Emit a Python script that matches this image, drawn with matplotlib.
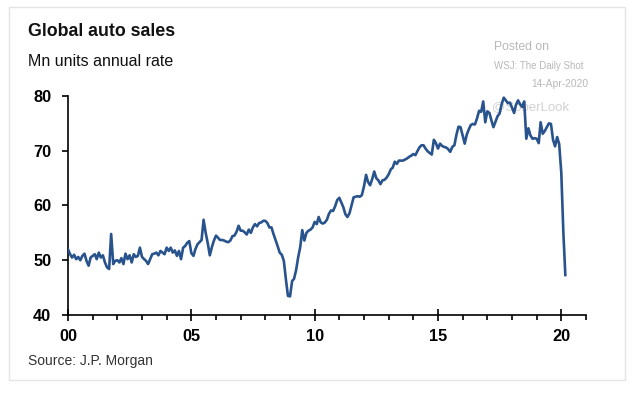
import matplotlib
matplotlib.use("Agg")
import matplotlib.pyplot as plt
import matplotlib.dates as mdates
from matplotlib.patches import Rectangle
import numpy as np
import pandas as pd

plt.rcParams['font.family'] = ['Liberation Sans', 'DejaVu Sans']

# monthly global auto sales, Mn units annual rate
y2000 = [52.0, 51.1, 50.5, 51.0, 50.2, 50.6, 50.0, 50.8, 51.2, 49.9, 49.0, 50.5]
y2001 = [50.8, 51.1, 50.2, 51.4, 50.5, 50.9, 49.6, 48.7, 48.4, 54.8, 49.3, 49.9]
y2002 = [50.0, 49.6, 50.4, 49.3, 51.2, 50.2, 50.9, 49.6, 51.1, 50.6, 50.8, 52.3]
y2003 = [50.6, 50.2, 49.9, 49.3, 50.2, 51.1, 51.2, 51.4, 50.9, 51.7, 51.4, 51.1]
y2004 = [52.3, 51.7, 52.3, 51.4, 51.8, 50.8, 51.7, 50.2, 52.3, 52.6, 53.2, 53.5]
y2005 = [51.3, 50.8, 52.0, 52.9, 53.3, 53.7, 57.4, 55.0, 53.1, 50.9, 52.4, 53.6]
y2006 = [54.5, 54.1, 53.7, 53.7, 53.6, 53.4, 53.3, 53.6, 54.4, 54.5, 55.2, 56.3]
y2007 = [55.4, 55.4, 55.1, 54.7, 55.6, 55.0, 56.0, 56.6, 56.2, 56.8, 56.9, 57.2]
y2008 = [57.2, 56.8, 56.0, 56.0, 54.8, 53.7, 52.6, 51.4, 51.0, 49.9, 46.5, 43.5]
y2009 = [43.4, 46.2, 46.6, 48.2, 50.5, 52.4, 55.5, 53.6, 55.0, 55.4, 55.6, 56.0]
y2010 = [57.0, 56.6, 57.9, 56.9, 56.7, 56.9, 57.4, 58.5, 59.1, 59.0, 59.9, 61.0]
y2011 = [61.4, 60.5, 59.7, 58.4, 57.9, 58.6, 60.0, 61.5, 61.6, 61.7, 61.6, 61.9]
y2012 = [63.5, 65.6, 64.3, 63.7, 64.8, 66.2, 65.0, 64.6, 63.9, 64.6, 64.7, 65.1]
y2013 = [65.7, 66.6, 66.9, 68.0, 67.6, 68.2, 68.2, 68.2, 68.4, 68.6, 68.9, 69.1]
y2014 = [69.4, 69.2, 69.9, 70.6, 71.0, 71.0, 70.4, 69.9, 69.6, 69.3, 72.0, 71.4]
y2015 = [70.4, 71.3, 70.9, 70.7, 70.6, 70.3, 69.8, 70.7, 71.0, 72.9, 74.4, 74.3]
y2016 = [72.8, 71.3, 72.9, 73.9, 74.7, 74.9, 74.8, 75.9, 77.3, 77.1, 79.0, 75.2]
y2017 = [77.2, 76.9, 75.6, 74.3, 75.3, 76.3, 76.8, 78.5, 79.7, 79.2, 78.7, 78.8]
y2018 = [77.9, 76.9, 78.4, 79.2, 78.5, 78.0, 79.0, 72.2, 74.1, 72.8, 72.2, 72.3]
y2019 = [72.2, 71.4, 75.2, 73.1, 73.6, 74.3, 75.0, 74.9, 72.0, 70.8, 72.5, 71.2]
y2020 = [66.0, 55.0, 47.3]

sales = (y2000 + y2001 + y2002 + y2003 + y2004 + y2005 + y2006 + y2007 + y2008
         + y2009 + y2010 + y2011 + y2012 + y2013 + y2014 + y2015 + y2016
         + y2017 + y2018 + y2019 + y2020)
months = pd.date_range('2000-01-01', periods=len(sales), freq='MS')

yticks = [40, 50, 60, 70, 80]

fig = plt.figure(figsize=(6.4, 3.93), dpi=100)
W, H = 640.0, 393.0

# light frame round the whole chart
fig.patches.append(Rectangle((9 / W, 1 - 380 / H), 616 / W, 373 / H,
                             transform=fig.transFigure, fill=False,
                             edgecolor='#e4e4e4', linewidth=1))

ax = fig.add_axes([68 / W, 1 - 315 / H, 518 / W, 219 / H])
ax.plot(months, sales, color='#28538d', linewidth=1.9, zorder=3)

ax.set_xlim(pd.Timestamp('2000-01-01'), pd.Timestamp('2021-01-01'))
ax.set_ylim(40, 80)
ax.set_yticks(yticks)

ax.xaxis.set_major_locator(mdates.YearLocator(5))
ax.xaxis.set_minor_locator(mdates.YearLocator(1))
ax.xaxis.set_major_formatter(mdates.DateFormatter('%y'))

for s in ['top', 'right']:
    ax.spines[s].set_visible(False)
for s in ['left', 'bottom']:
    ax.spines[s].set_linewidth(1.2)

ax.tick_params(axis='y', direction='out', length=4, width=1.2, pad=8,
               labelsize=11.8)
ax.tick_params(axis='x', which='major', direction='inout', length=8,
               width=1.2, pad=6, labelsize=11.8)
ax.tick_params(axis='x', which='minor', direction='out', length=3.5,
               width=1.2)
for lab in ax.get_xticklabels() + ax.get_yticklabels():
    lab.set_fontweight('bold')

# titles and notes
fig.text(28 / W, 1 - 32 / H, 'Global auto sales', fontsize=12.8,
         fontweight='bold', va='center', ha='left', color='#111111')
fig.text(28 / W, 1 - 62 / H, 'Mn units annual rate', fontsize=11.5,
         va='center', ha='left', color='#111111')
fig.text(28 / W, 1 - 361 / H, 'Source: J.P. Morgan', fontsize=10,
         va='center', ha='left', color='#333333')

fig.text(494 / W, 1 - 47 / H, 'Posted on', fontsize=8.8, va='center',
         ha='left', color='#b8b8b8')
fig.text(494 / W, 1 - 66 / H, 'WSJ: The Daily Shot', fontsize=7,
         va='center', ha='left', color='#b8b8b8')
fig.text(588 / W, 1 - 84 / H, '14-Apr-2020', fontsize=7.4, va='center',
         ha='right', color='#b8b8b8')
# watermark sits under the line
ax.text(492 / W, 1 - 107 / H, '@SoberLook', fontsize=9.5, va='center',
        ha='left', color='#d2d2d2', transform=fig.transFigure, zorder=1)

fig.savefig('out.png', dpi=100)
